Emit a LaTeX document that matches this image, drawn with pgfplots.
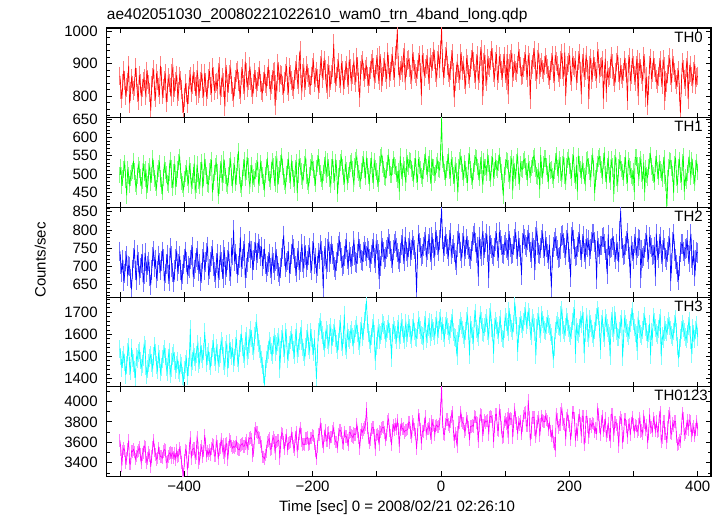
\documentclass[border=0pt]{standalone}
\usepackage{fontspec}
\setmainfont{Liberation Sans}
\usepackage{pgfplots}
\usepackage{pgfplotstable}
\pgfplotsset{compat=1.18}
\definecolor{cR}{rgb}{1,0,0}
\definecolor{cG}{rgb}{0,1,0}
\definecolor{cB}{rgb}{0,0,1}
\definecolor{cC}{rgb}{0,1,1}
\definecolor{cM}{rgb}{1,0,1}
\definecolor{lR}{rgb}{1,0.5,0.5}
\definecolor{lG}{rgb}{0.5,1,0.5}
\definecolor{lB}{rgb}{0.45,0.45,1}
\definecolor{lC}{rgb}{0.5,1,1}
\definecolor{lM}{rgb}{1,0.5,1}

\pgfplotstableread{
t a b c d e
-500 862 498 741 1534 3618
-498.5 820 519 705 1500 3527
-497 791 468 683 1447 3372
-495.5 840 489 719 1485 3516
-494 878 512 660 1509 3542
-492.5 847 530 681 1473 3514
-491 801 485 715 1416 3400
-489.5 826 442 728 1462 3441
-488 843 513 673 1519 3531
-486.5 894 496 703 1543 3619
-485 777 472 700 1457 3389
-483.5 813 490 667 1434 3387
-482 855 503 637 1538 3516
-480.5 834 509 692 1491 3509
-479 818 536 724 1470 3531
-477.5 829 507 746 1441 3506
-476 887 474 689 1403 3436
-474.5 858 465 662 1498 3466
-473 809 494 732 1489 3507
-471.5 785 525 713 1515 3521
-470 864 513 675 1526 3552
-468.5 839 491 695 1482 3481
-467 799 469 708 1450 3400
-465.5 825 482 734 1466 3481
-464 844 530 656 1498 3502
-462.5 853 504 680 1554 3565
-461 819 486 737 1534 3550
-459.5 802 513 714 1454 3457
-458 877 455 685 1414 3405
-456.5 850 471 703 1442 3440
-455 836 508 714 1470 3502
-453.5 811 521 672 1494 3472
-452 755 477 649 1506 3361
-450.5 832 497 690 1469 3462
-449 858 543 727 1446 3548
-447.5 882 517 742 1502 3617
-446 813 488 698 1546 3519
-444.5 796 475 719 1518 3482
-443 870 462 667 1462 3435
-441.5 847 502 687 1438 3448
-440 826 515 730 1510 3544
-438.5 803 530 709 1487 3492
-437 893 488 691 1426 3461
-435.5 859 469 715 1453 3459
-434 803 451 741 1487 3445
-432.5 823 491 722 1510 3509
-431 848 526 660 1533 3530
-429.5 870 510 681 1499 3523
-428 781 499 707 1453 3403
-426.5 809 475 733 1430 3410
-425 856 471 678 1495 3463
-423.5 840 504 660 1521 3488
-422 828 539 751 1419 3500
-420.5 798 517 728 1445 3451
-419 870 484 699 1476 3492
-417.5 887 462 683 1502 3497
-416 809 506 657 1514 3449
-414.5 826 528 691 1480 3488
-413 845 466 720 1438 3432
-411.5 865 486 743 1464 3521
-410 798 512 686 1482 3458
-408.5 815 533 707 1439 3474
-407 862 547 728 1423 3540
-405.5 849 509 691 1471 3500
-404 820 480 663 1458 3401
-402.5 778 471 680 1412 3321
-401 751 459 705 1390 3285
-399.5 796 487 722 1437 3422
-398 838 502 741 1466 3527
-396.5 812 516 713 1489 3510
-395 775 490 678 1410 3333
-393.5 803 472 702 1452 3409
-392 851 523 695 1495 3544
-390.5 862 508 719 1625 3649
-389 812 468 732 1452 3444
-387.5 834 481 754 1478 3527
-386 869 497 671 1521 3538
-384.5 845 529 692 1497 3543
-383 829 455 709 1474 3447
-381.5 801 470 725 1509 3485
-380 880 526 744 1532 3647
-378.5 857 502 718 1556 3598
-377 808 481 688 1463 3405
-375.5 823 468 706 1481 3443
-374 846 510 659 1547 3527
-372.5 871 533 682 1512 3563
-371 823 463 721 1488 3460
-369.5 798 491 739 1523 3516
-368 870 535 690 1610 3670
-366.5 842 519 713 1540 3579
-365 797 496 738 1471 3467
-363.5 819 474 755 1502 3515
-362 853 472 675 1519 3484
-360.5 877 507 693 1478 3520
-359 831 518 712 1456 3482
-357.5 809 539 728 1496 3537
-356 887 450 746 1535 3583
-354.5 862 478 701 1561 3567
-353 816 503 684 1498 3466
-351.5 838 521 669 1473 3466
-350 843 529 709 1540 3609
-348.5 821 505 735 1517 3566
-347 874 440 668 1466 3436
-345.5 890 469 690 1492 3529
-344 801 512 731 1512 3544
-342.5 826 531 712 1571 3628
-341 858 477 693 1549 3565
-339.5 841 498 667 1503 3497
-338 826 540 745 1478 3577
-336.5 768 516 726 1454 3452
-335 889 495 676 1530 3578
-333.5 868 474 699 1559 3588
-332 812 468 718 1445 3431
-330.5 839 497 741 1486 3551
-329 867 521 688 1561 3625
-327.5 883 538 672 1527 3608
-326 834 489 752 1502 3565
-324.5 815 471 731 1538 3543
-323 795 507 800 1470 3560
-321.5 829 525 714 1495 3551
-320 851 476 735 1548 3564
-318.5 873 493 706 1579 3605
-317 880 532 681 1490 3537
-315.5 845 562 703 1467 3531
-314 819 495 724 1535 3527
-312.5 803 470 780 1560 3567
-311 862 461 698 1603 3578
-309.5 884 489 720 1542 3589
-308 835 518 742 1512 3561
-306.5 818 539 761 1489 3561
-305 906 490 669 1570 3589
-303.5 872 507 695 1595 3623
-302 827 546 713 1501 3541
-300.5 849 521 738 1527 3589
-299 864 482 751 1585 3636
-297.5 891 467 770 1556 3638
-296 848 503 722 1620 3647
-294.5 826 525 744 1581 3630
-293 805 474 690 1547 3470
-291.5 838 492 717 1522 3523
-290 872 487 741 1595 3686
-288.5 851 509 765 1618 3734
-287 826 515 718 1651 3701
-285.5 844 534 737 1589 3695
-284 859 472 763 1560 3645
-282.5 880 491 748 1533 3643
-281 840 530 729 1512 3602
-279.5 817 512 754 1486 3560
-278 811 496 702 1458 3458
-276.5 846 478 721 1421 3457
-275 867 461 748 1372 3439
-273.5 839 497 706 1445 3478
-272 829 519 684 1486 3509
-270.5 861 538 701 1512 3603
-269 886 503 712 1528 3620
-267.5 852 486 736 1571 3636
-266 818 478 695 1549 3531
-264.5 835 511 679 1520 3536
-263 852 535 727 1507 3612
-261.5 874 521 709 1553 3648
-260 876 490 690 1590 3623
-258.5 770 473 715 1558 3493
-257 835 526 739 1521 3598
-255.5 818 541 720 1547 3603
-254 901 471 701 1566 3616
-252.5 877 496 683 1589 3622
-251 842 512 672 1440 3443
-249.5 867 529 696 1528 3597
-248 864 548 725 1579 3693
-246.5 833 520 748 1603 3681
-245 808 493 785 1535 3598
-243.5 846 478 729 1512 3542
-242 871 467 697 1611 3623
-240.5 892 501 711 1584 3665
-239 833 520 716 1487 3533
-237.5 815 537 741 1519 3589
-236 889 499 682 1552 3599
-234.5 866 482 705 1574 3604
-233 847 531 734 1598 3687
-231.5 829 514 759 1563 3642
-230 820 488 748 1530 3560
-228.5 851 472 723 1506 3526
-227 878 515 701 1585 3653
-225.5 897 533 684 1612 3700
-224 851 448 725 1512 3510
-222.5 834 498 744 1539 3589
-221 906 542 690 1568 3680
-219.5 940 521 712 1594 3741
-218 836 509 738 1623 3680
-216.5 817 493 761 1567 3612
-215 869 482 712 1540 3577
-213.5 888 506 694 1521 3583
-212 825 527 756 1495 3577
-210.5 848 545 731 1542 3640
-209 893 495 699 1579 3640
-207.5 871 478 716 1608 3647
-206 858 468 731 1548 3579
-204.5 836 497 752 1526 3585
-203 833 518 708 1610 3643
-201.5 862 534 689 1583 3642
-200 887 531 742 1545 3670
-198.5 904 512 765 1517 3663
-197 842 490 706 1582 3585
-195.5 857 474 724 1496 3516
-194 876 516 681 1398 3436
-192.5 853 529 702 1512 3561
-191 819 545 737 1610 3676
-189.5 838 520 719 1635 3677
-188 893 502 760 1657 3777
-186.5 912 487 744 1621 3729
-185 855 478 715 1598 3611
-183.5 879 503 640 1569 3556
-182 910 523 729 1535 3662
-180.5 882 541 751 1577 3716
-179 838 497 693 1620 3613
-177.5 821 515 712 1601 3614
-176 871 535 748 1572 3691
-174.5 895 518 768 1549 3695
-173 826 486 711 1608 3596
-171.5 849 471 734 1632 3651
-170 866 520 758 1550 3652
-168.5 889 541 735 1586 3709
-167 961 499 716 1607 3741
-165.5 870 480 698 1631 3637
-164 842 533 690 1582 3605
-162.5 861 516 714 1555 3604
-161 885 445 737 1530 3555
-159.5 903 493 756 1568 3678
-158 854 515 769 1625 3721
-156.5 837 532 741 1649 3717
-155 901 544 724 1566 3693
-153.5 879 519 701 1541 3598
-152 832 492 705 1598 3585
-150.5 851 474 729 1690 3702
-149 879 528 748 1545 3658
-147.5 896 510 766 1527 3657
-146 857 478 719 1612 3624
-144.5 834 497 703 1583 3575
-143 912 511 741 1574 3696
-141.5 885 529 726 1602 3700
-140 846 536 707 1620 3669
-138.5 867 514 729 1589 3659
-137 889 490 752 1553 3644
-135.5 904 473 770 1578 3685
-134 863 521 731 1601 3676
-132.5 842 539 712 1626 3679
-131 920 547 709 1642 3778
-129.5 891 512 735 1604 3702
-128 841 503 768 1570 3642
-126.5 795 488 749 1548 3540
-125 878 482 736 1617 3673
-123.5 897 508 718 1641 3724
-122 909 526 715 1588 3698
-120.5 874 541 739 1612 3726
-119 856 511 757 1662 3746
-117.5 883 493 741 1700 3777
-116 892 540 728 1752 3935
-114.5 861 522 750 1648 3741
-113 838 495 744 1605 3642
-111.5 859 477 722 1574 3592
-110 880 522 712 1556 3629
-108.5 901 539 733 1591 3723
-107 913 498 749 1628 3747
-105.5 887 481 766 1652 3745
-104 851 534 724 1601 3669
-102.5 868 517 708 1480 3532
-101 897 507 762 1547 3672
-99.5 919 488 745 1572 3683
-98 866 473 735 1630 3663
-96.5 847 502 665 1605 3578
-95 924 528 718 1574 3703
-93.5 901 545 701 1596 3702
-92 842 552 771 1612 3736
-90.5 861 526 752 1651 3749
-89 889 514 739 1643 3744
-87.5 907 493 721 1619 3699
-86 871 489 726 1580 3625
-84.5 852 511 747 1603 3672
-83 935 531 753 1625 3803
-81.5 898 547 775 1648 3827
-80 858 518 761 1612 3710
-78.5 876 499 743 1589 3668
-77 902 497 722 1490 3572
-75.5 921 520 708 1607 3717
-74 879 540 745 1640 3765
-72.5 857 523 763 1621 3725
-71 926 520 770 1598 3775
-69.5 944 501 752 1573 3731
-68 1005 485 738 1625 3814
-66.5 893 509 721 1648 3732
-65 861 452 712 1572 3558
-63.5 878 548 737 1597 3721
-62 894 508 759 1655 3777
-60.5 872 491 776 1629 3729
-59 918 525 733 1600 3737
-57.5 935 514 714 1574 3698
-56 849 494 781 1628 3713
-54.5 866 477 762 1651 3717
-53 887 547 741 1583 3719
-51.5 909 529 725 1606 3730
-50 912 519 752 1650 3800
-48.5 889 538 769 1628 3791
-47 866 536 727 1598 3694
-45.5 852 514 745 1577 3655
-44 931 503 773 1631 3805
-42.5 906 486 758 1656 3773
-41 882 521 746 1612 3728
-39.5 869 543 712 1589 3680
-38 859 497 629 1584 3536
-36.5 881 478 731 1617 3674
-35 905 541 788 1665 3866
-33.5 926 523 766 1641 3823
-32 873 512 751 1620 3723
-30.5 800 494 729 1597 3587
-29 927 488 734 1593 3709
-27.5 903 509 755 1570 3704
-26 861 533 769 1644 3774
-24.5 884 551 782 1668 3852
-23 898 519 725 1578 3687
-21.5 916 500 744 1602 3729
-20 867 528 762 1633 3738
-18.5 849 542 779 1655 3773
-17 919 495 738 1587 3687
-15.5 897 476 717 1610 3648
-14 884 542 781 1652 3807
-12.5 906 520 764 1629 3767
-11 938 518 749 1615 3768
-9.5 912 497 727 1591 3675
-8 871 503 795 1641 3758
-6.5 857 525 773 1667 3770
-5 909 536 758 1598 3749
-3.5 928 514 741 1622 3753
-2 885 511 772 1662 3778
-0.5 942 560 805 1675 3930
1 1008 652 858 1615 4139
2.5 903 538 776 1641 3806
4 862 527 739 1606 3682
5.5 884 506 756 1583 3677
7 921 490 781 1640 3780
8.5 939 513 762 1662 3824
10 893 532 748 1635 3824
11.5 871 549 727 1612 3775
13 857 508 772 1598 3751
14.5 879 489 791 1625 3800
16 912 541 733 1652 3854
17.5 931 523 749 1677 3896
19 874 496 760 1611 3757
20.5 795 474 738 1588 3611
22 845 525 718 1584 3688
23.5 868 508 703 1556 3651
25 902 484 752 1500 3560
26.5 887 450 771 1572 3696
28 868 519 789 1603 3795
29.5 849 537 764 1630 3796
31 931 547 741 1661 3896
32.5 907 528 722 1641 3814
34 879 506 765 1622 3788
35.5 896 489 784 1598 3783
37 851 530 728 1580 3705
38.5 834 512 747 1615 3724
40 917 498 775 1660 3837
41.5 898 476 758 1682 3801
43 866 535 746 1612 3746
44.5 853 551 727 1505 3623
46 889 512 721 1645 3754
47.5 912 493 743 1622 3757
49 934 481 768 1594 3764
50.5 906 507 785 1571 3756
52 870 529 792 1672 3850
53.5 851 546 766 1698 3848
55 902 544 737 1625 3795
56.5 925 520 754 1604 3790
58 848 507 672 1588 3602
59.5 869 489 781 1641 3767
61 923 523 748 1690 3871
62.5 944 540 729 1663 3863
64 881 490 779 1633 3770
65.5 800 471 797 1609 3664
67 905 536 731 1607 3766
68.5 927 518 750 1632 3814
70 861 520 766 1651 3796
71.5 844 503 789 1674 3808
73 915 547 739 1612 3811
74.5 893 529 668 1590 3678
76 887 503 783 1678 3849
77.5 909 486 760 1701 3854
79 940 528 751 1630 3847
80.5 918 546 733 1608 3803
82 872 491 729 1512 3602
83.5 857 510 752 1633 3750
85 906 534 770 1662 3870
86.5 929 517 791 1640 3875
88 849 512 742 1618 3719
89.5 868 531 724 1594 3715
91 923 549 795 1645 3910
92.5 901 525 773 1669 3866
94 879 506 757 1603 3743
95.5 856 478 736 1581 3649
97 901 441 734 1577 3651
98.5 921 497 759 1622 3797
100 868 519 768 1680 3825
101.5 849 538 750 1656 3783
103 929 536 745 1633 3833
104.5 805 515 727 1609 3646
106 884 500 789 1708 3871
107.5 902 482 771 1679 3824
109 912 527 752 1651 3832
110.5 933 544 735 1627 3829
112 857 455 736 1612 3650
113.5 876 527 758 1650 3801
115 901 509 775 1745 3920
116.5 879 491 794 1689 3843
118 873 532 748 1640 3783
119.5 896 549 729 1520 3684
121 938 495 770 1602 3795
122.5 915 478 752 1637 3772
124 890 528 731 1668 3807
125.5 862 514 676 1645 3687
127 866 513 764 1625 3758
128.5 887 536 786 1657 3856
130 907 540 776 1682 3885
131.5 929 521 759 1706 3895
133 879 507 753 1640 3759
134.5 858 489 772 1662 3761
136 926 531 788 1701 4010
137.5 904 512 766 1678 3840
139 790 498 740 1615 3623
140.5 881 517 722 1593 3693
142 897 525 769 1673 3844
143.5 919 544 751 1651 3845
145 940 549 745 1632 3846
146.5 913 528 690 1609 3720
148 875 515 781 1505 3656
149.5 852 496 798 1630 3756
151 913 492 758 1658 3801
152.5 934 509 737 1684 3844
154 867 458 733 1624 3662
155.5 889 552 751 1602 3774
157 904 511 772 1690 3857
158.5 881 494 790 1667 3812
160 872 526 749 1645 3805
161.5 895 543 728 1621 3800
163 918 543 771 1612 3857
164.5 897 521 753 1640 3824
166 886 501 736 1671 3807
167.5 864 483 719 1648 3727
169 851 529 760 1635 3788
170.5 879 510 701 1609 3712
172 904 512 642 1590 3661
173.5 925 495 724 1551 3708
175 869 485 753 1485 3605
176.5 846 509 769 1542 3590
178 926 534 778 1618 3520
179.5 907 551 756 1645 3872
181 893 517 745 1662 3830
182.5 871 499 724 1638 3745
184 858 540 726 1631 3768
185.5 880 524 748 1607 3772
187 911 503 764 1688 3879
188.5 932 486 783 1711 3925
190 880 528 787 1642 3826
191.5 859 547 765 1620 3780
193 935 495 750 1603 3772
194.5 800 478 731 1632 3630
196 871 521 772 1681 3834
197.5 893 539 792 1655 3868
199 903 546 739 1627 3804
200.5 926 522 720 1604 3761
202 864 509 670 1592 3624
203.5 845 490 782 1617 3723
205 918 533 796 1659 3895
206.5 895 551 774 1683 3892
208 887 498 748 1714 3836
209.5 909 481 727 1510 3616
211 849 525 730 1635 3728
212.5 868 452 753 1611 3673
214 909 550 767 1602 3817
215.5 931 527 789 1628 3864
217 875 512 745 1668 3789
218.5 805 494 726 1645 3659
220 901 527 762 1690 3857
221.5 920 509 784 1663 3853
223 858 494 738 1512 3579
224.5 879 476 719 1607 3658
226 924 519 775 1658 3853
227.5 903 537 757 1681 3855
229 882 541 752 1604 3756
230.5 790 522 773 1583 3645
232 896 505 729 1672 3779
233.5 917 488 748 1649 3779
235 851 530 768 1627 3753
236.5 873 549 790 1601 3790
238 913 516 790 1582 3778
239.5 892 448 767 1618 3702
241 876 488 746 1653 3740
242.5 854 507 664 1679 3681
244 938 528 770 1711 3924
245.5 916 543 752 1684 3872
247 869 548 735 1622 3751
248.5 887 526 757 1530 3677
250 890 513 758 1648 3806
251.5 911 495 779 1671 3853
253 790 535 781 1607 3710
254.5 866 552 763 1584 3762
256 915 500 744 1675 3831
257.5 810 482 721 1652 3662
259 878 522 680 1630 3707
260.5 857 540 788 1607 3789
262 862 497 728 1595 3679
263.5 885 478 749 1500 3609
265 921 540 752 1661 3871
266.5 900 521 773 1684 3875
268 883 514 779 1628 3801
269.5 861 445 757 1605 3665
271 840 529 740 1690 3796
272.5 872 547 719 1663 3798
274 905 491 763 1612 3768
275.5 926 474 741 1589 3727
277 871 518 712 1585 3560
278.5 849 537 798 1618 3799
280 888 531 852 1648 3840
281.5 867 514 776 1671 3819
283 853 506 751 1495 3596
284.5 874 489 731 1578 3663
286 910 524 735 1670 3830
287.5 889 542 757 1646 3825
289 872 495 770 1628 3756
290.5 785 477 791 1605 3649
292 899 538 748 1593 3769
293.5 920 521 727 1621 3780
295 846 513 668 1652 3670
296.5 867 495 758 1679 3790
298 917 489 741 1706 3844
299.5 896 509 720 1658 3774
301 864 451 763 1631 3700
302.5 843 546 782 1607 3769
304 893 545 730 1600 3759
305.5 914 523 751 1525 3704
307 800 508 756 1668 3723
308.5 872 489 777 1645 3774
310 905 524 772 1625 3839
311.5 884 541 668 1601 3707
313 867 500 745 1592 3717
314.5 846 482 724 1619 3684
316 923 532 728 1659 3855
317.5 901 450 749 1682 3795
319 795 516 766 1634 3724
320.5 859 497 787 1611 3767
322 771 491 740 1577 3592
323.5 832 520 719 1603 3687
325 896 535 781 1648 3873
326.5 917 552 760 1505 3747
328 852 521 752 1612 3750
329.5 873 503 731 1589 3709
331 910 498 733 1680 3834
332.5 889 479 754 1657 3792
334 871 527 672 1630 3713
335.5 850 544 790 1606 3803
337 838 510 744 1596 3701
338.5 861 492 723 1624 3713
340 889 531 761 1653 3849
341.5 910 513 782 1676 3896
343 856 504 734 1500 3609
344.5 835 486 713 1592 3641
346 912 524 772 1580 3803
347.5 891 542 751 1608 3807
349 785 495 746 1642 3683
350.5 849 476 725 1619 3684
352 841 412 718 1608 3594
353.5 868 490 740 1636 3749
355 897 518 758 1662 3850
356.5 918 537 779 1639 3888
358 862 536 660 1621 3694
359.5 841 517 710 1597 3680
361 915 501 769 1585 3785
362.5 894 448 789 1613 3759
364 873 527 742 1648 3805
365.5 852 545 721 1671 3804
367 835 489 705 1610 3654
368.5 857 471 684 1548 3575
370 879 520 663 1491 3587
371.5 812 538 702 1537 3623
373 748 497 740 1583 3602
374.5 836 479 761 1619 3729
376 903 532 762 1650 3881
377.5 882 549 741 1627 3833
379 851 452 727 1611 3675
380.5 830 491 748 1588 3691
382 888 481 751 1577 3731
383.5 909 503 772 1602 3820
385 790 525 733 1638 3720
386.5 867 543 712 1661 3817
388 894 511 768 1596 3803
389.5 873 493 789 1574 3763
391 859 538 724 1510 3665
392.5 838 520 703 1629 3724
394 877 494 745 1603 3753
395.5 898 476 672 1580 3660
397 835 516 718 1620 3723
398.5 856 533 739 1643 3805
400 862 505 737 1588 3726
}\lc

\pgfplotsset{
  panel/.style={
    scale only axis, width=604.3pt, height=89.7pt,
    anchor=south west,
    xmin=-520.7, xmax=420.7,
    xtick={-500,-400,...,400},
    xticklabels={},
    tick align=inside, xtick pos=both, ytick pos=both,
    major tick length=5pt, minor tick length=3pt,
    every tick/.style={black, line width=0.8pt},
    axis line style={black, line width=1.1pt},
    tick label style={font=\fontsize{15}{18}\selectfont},
    /pgf/number format/assume math mode=true,
    /pgf/number format/1000 sep={},
    scaled y ticks=false,
    yticklabel style={xshift=-5.5pt},
    xticklabel style={yshift=-1pt},
    clip marker paths=true,
  },
  ln/.style={line width=0.65pt, mark=none},
  eb/.style n args={2}{only marks, mark=|, mark size=#2pt, mark options={draw=#1, line width=1.0pt}},
}

\begin{document}
\begin{tikzpicture}[x=1pt,y=1pt]
\useasboundingbox (0,0) rectangle (723,516);

\begin{axis}[panel, at={(106.7pt,398.3pt)},
  ymin=733, ymax=1010, ytick={800,900,1000}, minor ytick={740,760,...,1000}]
  \addplot[lR, eb={lR}{9.4}] table[x=t,y=a]{\lc};
  \addplot[cR, ln] table[x=t,y=a]{\lc};
  \node[anchor=north east, inner sep=0pt, font=\fontsize{15}{18}\selectfont] at (rel axis cs:1,1) [xshift=-8pt, yshift=-3.5pt] {TH0};
\end{axis}

\begin{axis}[panel, at={(106.7pt,308.6pt)},
  ymin=409, ymax=654, ytick={450,500,...,650}, minor ytick={410,420,...,650}]
  \addplot[lG, eb={lG}{8.2}] table[x=t,y=b]{\lc};
  \addplot[cG, ln] table[x=t,y=b]{\lc};
  \node[anchor=north east, inner sep=0pt, font=\fontsize{15}{18}\selectfont] at (rel axis cs:1,1) [xshift=-8pt, yshift=-3.5pt] {TH1};
\end{axis}

\begin{axis}[panel, at={(106.7pt,218.9pt)},
  ymin=616, ymax=862, ytick={650,700,...,850}, minor ytick={620,630,...,860}]
  \addplot[lB, eb={lB}{9.8}] table[x=t,y=c]{\lc};
  \addplot[cB, ln] table[x=t,y=c]{\lc};
  \node[anchor=north east, inner sep=0pt, font=\fontsize{15}{18}\selectfont] at (rel axis cs:1,1) [xshift=-8pt, yshift=-3.5pt] {TH2};
\end{axis}

\begin{axis}[panel, at={(106.7pt,129.2pt)},
  ymin=1362, ymax=1769, ytick={1400,1500,1600,1700}, minor ytick={1380,1400,...,1760}]
  \addplot[lC, eb={lC}{8.8}] table[x=t,y=d]{\lc};
  \addplot[cC, ln] table[x=t,y=d]{\lc};
  \node[anchor=north east, inner sep=0pt, font=\fontsize{15}{18}\selectfont] at (rel axis cs:1,1) [xshift=-8pt, yshift=-3.5pt] {TH3};
\end{axis}

\begin{axis}[panel, at={(106.7pt,39.5pt)},
  ymin=3266, ymax=4143, ytick={3400,3600,3800,4000}, minor ytick={3300,3400,...,4100},
  xticklabels={,−400,,−200,,0,,200,,400}]
  \addplot[lM, eb={lM}{6.3}] table[x=t,y=e]{\lc};
  \addplot[cM, ln] table[x=t,y=e]{\lc};
  \node[anchor=north east, inner sep=0pt, font=\fontsize{15}{18}\selectfont] at (rel axis cs:1,1) [xshift=-3pt, yshift=-3.5pt] {TH0123};
\end{axis}

\node[anchor=base west, inner sep=0pt, font=\fontsize{15.5}{18}\selectfont] at (106.7,496.7) {ae402051030\_20080221022610\_wam0\_trn\_4band\_long.qdp};
\node[anchor=base, inner sep=0pt, font=\fontsize{15}{18}\selectfont] at (397,4.5) {Time [sec] 0 = 2008/02/21 02:26:10};
\node[anchor=base, rotate=90, inner sep=0pt, font=\fontsize{15}{18}\selectfont] at (45.7,256) {Counts/sec};
\end{tikzpicture}
\end{document}
